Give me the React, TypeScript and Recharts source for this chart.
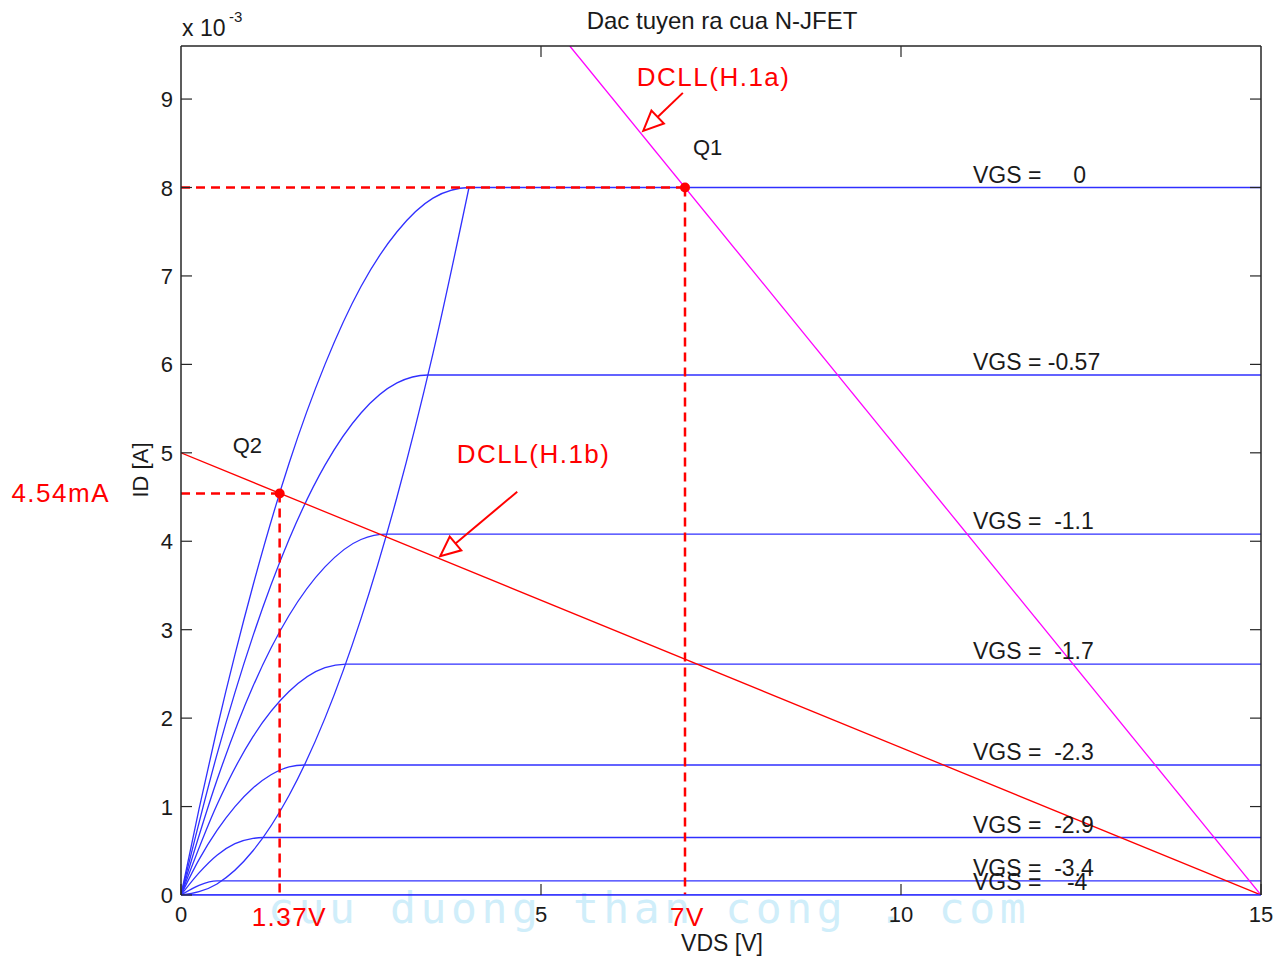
import React from 'react';
import { ComposedChart, Line, XAxis, YAxis, ReferenceLine, ReferenceDot } from 'recharts';

const FONT = '"Liberation Sans", Arial, Helvetica, sans-serif';
const TXT = '#1a1a1a';
const AX = '#262626';
const BLUE = '#3030ff';
const RED = '#ff0000';
const MAGENTA = '#ff00ff';

// ---- data (ID in mA, VDS in V) ----
const xTicks = [0, 5, 10, 15];
const yTicks = [0, 1, 2, 3, 4, 5, 6, 7, 8, 9];
const topTicks = [5, 10];
const rightTicks = [1, 2, 3, 4, 5, 6, 7, 8, 9];

const vgsLabels = [
  'VGS =     0',
  'VGS = -0.57',
  'VGS =  -1.1',
  'VGS =  -1.7',
  'VGS =  -2.3',
  'VGS =  -2.9',
  'VGS =  -3.4',
  'VGS =    -4',
];
const vgsSatId = [8, 5.88, 4.08, 2.61, 1.47, 0.65, 0.16, 0];

const curveVds0 = [0, 0.25, 0.5, 0.75, 1, 1.5, 2, 2.5, 3, 3.5, 4, 15];
const curveId0 = [0, 0.97, 1.88, 2.72, 3.5, 4.88, 6, 6.88, 7.5, 7.88, 8, 8];
const curveVds1 = [0, 0.5, 1, 1.5, 2, 2.5, 3, 3.43, 15];
const curveId1 = [0, 1.59, 2.93, 4.02, 4.86, 5.45, 5.79, 5.88, 5.88];
const curveVds2 = [0, 0.5, 1, 1.5, 2, 2.5, 2.86, 15];
const curveId2 = [0, 1.3, 2.36, 3.16, 3.71, 4.02, 4.08, 4.08];
const curveVds3 = [0, 0.5, 1, 1.5, 2, 2.29, 15];
const curveId3 = [0, 1.02, 1.79, 2.3, 2.57, 2.61, 2.61];
const curveVds4 = [0, 0.25, 0.5, 0.75, 1, 1.25, 1.5, 1.71, 15];
const curveId4 = [0, 0.4, 0.73, 1.0, 1.21, 1.36, 1.45, 1.47, 1.47];
const curveVds5 = [0, 0.25, 0.5, 0.75, 1, 1.14, 15];
const curveId5 = [0, 0.25, 0.45, 0.58, 0.64, 0.65, 0.65];
const curveVds6 = [0, 0.25, 0.5, 0.57, 15];
const curveId6 = [0, 0.11, 0.16, 0.16, 0.16];
const curveVds7 = [0, 15];
const curveId7 = [0, 0];

const locusVds = [0, 0.5, 1, 1.5, 2, 2.5, 3, 3.5, 4];
const locusId = [0, 0.125, 0.5, 1.125, 2, 3.125, 4.5, 6.125, 8];

const loadBVds = [0, 15];
const loadBId = [5, 0];
const loadAVds = [5.4, 15];
const loadAId = [9.6, 0];

const q1 = { vds: 7, id: 8 };
const q2 = { vds: 1.37, id: 4.54 };
const arrowA = [{ x: 6.97, y: 9.07 }, { x: 6.42, y: 8.64 }];
const arrowB = [{ x: 4.67, y: 4.56 }, { x: 3.6, y: 3.83 }];
const labelVds = 11;
const dcllALabel = { vds: 6.33, id: 9.15, text: 'DCLL(H.1a)' };
const dcllBLabel = { vds: 3.83, id: 4.89, text: 'DCLL(H.1b)' };

const zip = (xs: number[], ys: number[]) => xs.map((x, i) => ({ x, y: ys[i] }));
const curves = [
  zip(curveVds0, curveId0),
  zip(curveVds1, curveId1),
  zip(curveVds2, curveId2),
  zip(curveVds3, curveId3),
  zip(curveVds4, curveId4),
  zip(curveVds5, curveId5),
  zip(curveVds6, curveId6),
  zip(curveVds7, curveId7),
];
const locus = zip(locusVds, locusId);
const loadB = zip(loadBVds, loadBId);
const loadA = zip(loadAVds, loadAId);

// ---- tick renderers ----
const LeftTick = (p: any) => (
  <g>
    <line x1={p.x} x2={p.x + 11} y1={p.y} y2={p.y} stroke={AX} strokeWidth={1.2} />
    <text x={p.x - 8} y={p.y + 8} textAnchor="end" fontSize={22} fontFamily={FONT} fill={TXT}>
      {p.payload.value}
    </text>
  </g>
);
const BottomTick = (p: any) => (
  <g>
    <line x1={p.x} x2={p.x} y1={p.y} y2={p.y - 11} stroke={AX} strokeWidth={1.2} />
    <text x={p.x} y={p.y + 27} textAnchor="middle" fontSize={22} fontFamily={FONT} fill={TXT}>
      {p.payload.value}
    </text>
  </g>
);
const RightTick = (p: any) => (
  <line x1={p.x} x2={p.x - 11} y1={p.y} y2={p.y} stroke={AX} strokeWidth={1.2} />
);
const TopTick = (p: any) => (
  <line x1={p.x} x2={p.x} y1={p.y} y2={p.y + 11} stroke={AX} strokeWidth={1.2} />
);

const textShape =
  (txt: string, dx: number, dy: number, size: number, color: string, anchor = 'start', ls = 0) =>
  (p: any) => (
    <text
      x={p.cx + dx}
      y={p.cy + dy}
      fontSize={size}
      fontFamily={FONT}
      fill={color}
      textAnchor={anchor as any}
      letterSpacing={ls}
      style={{ whiteSpace: 'pre' }}
    >
      {txt}
    </text>
  );

const arrowShape = (p: any) => {
  const { x1, y1, x2, y2 } = p;
  const dx = x2 - x1;
  const dy = y2 - y1;
  const len = Math.hypot(dx, dy) || 1;
  const ux = dx / len;
  const uy = dy / len;
  const L = 20;
  const W = 9;
  const bx = x2 - ux * L;
  const by = y2 - uy * L;
  const px = -uy;
  const py = ux;
  return (
    <g>
      <line x1={x1} y1={y1} x2={bx} y2={by} stroke={RED} strokeWidth={2} />
      <polygon
        points={`${x2},${y2} ${bx + px * W},${by + py * W} ${bx - px * W},${by - py * W}`}
        fill="none"
        stroke={RED}
        strokeWidth={2}
      />
    </g>
  );
};

export default function App() {
  const W = 1276;
  const H = 950;
  return (
    <div style={{ position: 'relative', width: W, height: H }}>
      <svg width={W} height={H} style={{ position: 'absolute', left: 0, top: 0 }}>
        <text
          x={260}
          y={915}
          fontSize={43}
          fontFamily='"DejaVu Sans Mono", monospace'
          fill="#d0eefa"
          letterSpacing={4.6}
          style={{ whiteSpace: 'pre' }}
        >
          cuu duong than cong . com
        </text>
        <text x={714} y={21} textAnchor="middle" fontSize={24} fontFamily={FONT} fill={TXT}>
          Dac tuyen ra cua N-JFET
        </text>
        <text x={174} y={28} fontSize={23} fontFamily={FONT} fill={TXT}>
          x 10
        </text>
        <text x={221} y={14} fontSize={15} fontFamily={FONT} fill={TXT}>
          -3
        </text>
        <text
          x={132}
          y={462}
          textAnchor="middle"
          dominantBaseline="central"
          fontSize={22}
          fontFamily={FONT}
          fill={TXT}
          transform="rotate(-90 132 462)"
        >
          ID [A]
        </text>
        <text x={714} y={943} textAnchor="middle" fontSize={23} fontFamily={FONT} fill={TXT}>
          VDS [V]
        </text>
      </svg>
      <div style={{ position: 'absolute', left: 0, top: 0 }}>
        <ComposedChart width={W} height={H} margin={{ top: 37, right: 22, bottom: 62, left: 172 }}>
          <XAxis
            type="number"
            dataKey="x"
            domain={[0, 15]}
            ticks={xTicks}
            interval={0}
            allowDataOverflow
            height={1}
            tickSize={0}
            tickMargin={0}
            tick={BottomTick}
            axisLine={{ stroke: BLUE, strokeWidth: 1.5 }}
            tickLine={false}
          />
          <XAxis
            xAxisId="top"
            orientation="top"
            type="number"
            dataKey="x"
            domain={[0, 15]}
            ticks={topTicks}
            interval={0}
            allowDataOverflow
            height={1}
            tickSize={0}
            tickMargin={0}
            tick={TopTick}
            axisLine={{ stroke: AX, strokeWidth: 1.5 }}
            tickLine={false}
          />
          <YAxis
            type="number"
            domain={[0, 9.6]}
            ticks={yTicks}
            interval={0}
            allowDataOverflow
            width={1}
            tickSize={0}
            tickMargin={0}
            tick={LeftTick}
            axisLine={{ stroke: AX, strokeWidth: 1.5 }}
            tickLine={false}
          />
          <YAxis
            yAxisId="right"
            orientation="right"
            type="number"
            domain={[0, 9.6]}
            ticks={rightTicks}
            interval={0}
            allowDataOverflow
            width={1}
            tickSize={0}
            tickMargin={0}
            tick={RightTick}
            axisLine={{ stroke: AX, strokeWidth: 1.5 }}
            tickLine={false}
          />

          {curves.map((d, i) => (
            <Line
              key={'c' + i}
              data={d}
              dataKey="y"
              type="monotone"
              stroke={BLUE}
              strokeWidth={1.3}
              dot={false}
              activeDot={false}
              isAnimationActive={false}
            />
          ))}
          <Line
            data={locus}
            dataKey="y"
            type="monotone"
            stroke={BLUE}
            strokeWidth={1.3}
            dot={false}
            activeDot={false}
            isAnimationActive={false}
          />
          <Line
            data={loadA}
            dataKey="y"
            type="linear"
            stroke={MAGENTA}
            strokeWidth={1.3}
            dot={false}
            activeDot={false}
            isAnimationActive={false}
          />
          <Line
            data={loadB}
            dataKey="y"
            type="linear"
            stroke={RED}
            strokeWidth={1.3}
            dot={false}
            activeDot={false}
            isAnimationActive={false}
          />

          <ReferenceLine
            segment={[{ x: 0, y: q1.id }, { x: q1.vds, y: q1.id }]}
            stroke={RED}
            strokeWidth={2.5}
            strokeDasharray="9 6"
            ifOverflow="visible"
          />
          <ReferenceLine
            segment={[{ x: q1.vds, y: q1.id }, { x: q1.vds, y: 0 }]}
            stroke={RED}
            strokeWidth={2.5}
            strokeDasharray="9 6"
            ifOverflow="visible"
          />
          <ReferenceLine
            segment={[{ x: 0, y: q2.id }, { x: q2.vds, y: q2.id }]}
            stroke={RED}
            strokeWidth={2.5}
            strokeDasharray="9 6"
            ifOverflow="visible"
          />
          <ReferenceLine
            segment={[{ x: q2.vds, y: q2.id }, { x: q2.vds, y: 0 }]}
            stroke={RED}
            strokeWidth={2.5}
            strokeDasharray="9 6"
            ifOverflow="visible"
          />
          <ReferenceLine segment={arrowA} shape={arrowShape} ifOverflow="visible" />
          <ReferenceLine segment={arrowB} shape={arrowShape} ifOverflow="visible" />

          <ReferenceDot x={q1.vds} y={q1.id} r={5} fill={RED} stroke="none" ifOverflow="visible" />
          <ReferenceDot x={q2.vds} y={q2.id} r={5} fill={RED} stroke="none" ifOverflow="visible" />

          {vgsLabels.map((t, i) => (
            <ReferenceDot
              key={'l' + i}
              x={labelVds}
              y={vgsSatId[i]}
              r={0}
              ifOverflow="visible"
              shape={textShape(t, 0, -5, 23, TXT)}
            />
          ))}
          <ReferenceDot x={q1.vds} y={q1.id} r={0} ifOverflow="visible" shape={textShape('Q1', 8, -33, 22, TXT)} />
          <ReferenceDot x={q2.vds} y={q2.id} r={0} ifOverflow="visible" shape={textShape('Q2', -47, -40, 22, TXT)} />
          <ReferenceDot
            x={0}
            y={q2.id}
            r={0}
            ifOverflow="visible"
            shape={textShape('4.54mA', -71, 8.5, 26, RED, 'end', 1.5)}
          />
          <ReferenceDot
            x={q2.vds}
            y={0}
            r={0}
            ifOverflow="visible"
            shape={textShape('1.37V', -28, 31, 26, RED, 'start', 1.5)}
          />
          <ReferenceDot
            x={q1.vds}
            y={0}
            r={0}
            ifOverflow="visible"
            shape={textShape('7V', -15, 31, 26, RED, 'start', 1.5)}
          />
          <ReferenceDot
            x={dcllALabel.vds}
            y={dcllALabel.id}
            r={0}
            ifOverflow="visible"
            shape={textShape(dcllALabel.text, 0, 0, 26, RED, 'start', 1.5)}
          />
          <ReferenceDot
            x={dcllBLabel.vds}
            y={dcllBLabel.id}
            r={0}
            ifOverflow="visible"
            shape={textShape(dcllBLabel.text, 0, 0, 26, RED, 'start', 1.5)}
          />
        </ComposedChart>
      </div>
    </div>
  );
}
